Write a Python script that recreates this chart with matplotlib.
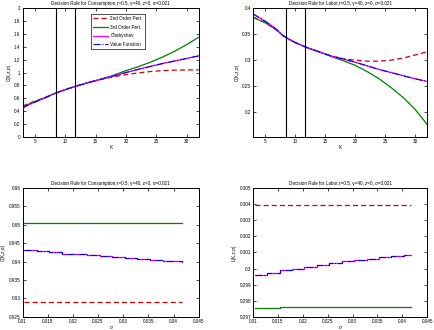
import numpy as np
import matplotlib
matplotlib.use("Agg")
import matplotlib.pyplot as plt
from matplotlib.ticker import FuncFormatter

plt.rcParams['font.family'] = ['Liberation Sans', 'DejaVu Sans']

# ==========================================================
# DATA
# ==========================================================

k_grid = [3, 4, 5, 6, 7, 8, 9, 10, 11, 12, 14, 16, 18, 20, 22, 24, 26, 28, 30, 32]

cons_pert2 = [0.48, 0.52, 0.555, 0.59, 0.625, 0.665, 0.70, 0.735, 0.765, 0.795,
              0.85, 0.895, 0.935, 0.968, 0.995, 1.016, 1.03, 1.038, 1.041, 1.042]
cons_pert3 = [0.47, 0.51, 0.55, 0.585, 0.622, 0.665, 0.70, 0.735, 0.765, 0.795,
              0.85, 0.90, 0.96, 1.03, 1.09, 1.16, 1.24, 1.33, 1.435, 1.55]
cons_cheb = [0.45, 0.50, 0.54, 0.58, 0.62, 0.665, 0.70, 0.735, 0.765, 0.795,
             0.85, 0.90, 0.95, 1.0, 1.05, 1.095, 1.14, 1.18, 1.22, 1.26]
cons_vf = [0.45, 0.50, 0.54, 0.58, 0.62, 0.665, 0.70, 0.735, 0.765, 0.795,
           0.85, 0.90, 0.95, 1.0, 1.05, 1.095, 1.14, 1.18, 1.22, 1.26]

lab_pert2 = [0.383, 0.378, 0.372, 0.365, 0.357, 0.347, 0.340, 0.334, 0.329, 0.324,
             0.316, 0.308, 0.303, 0.300, 0.298, 0.298, 0.300, 0.304, 0.310, 0.316]
lab_pert3 = [0.382, 0.377, 0.372, 0.365, 0.357, 0.347, 0.340, 0.334, 0.329, 0.324,
             0.316, 0.307, 0.299, 0.290, 0.278, 0.264, 0.247, 0.228, 0.205, 0.176]
lab_cheb = [0.389, 0.382, 0.375, 0.367, 0.358, 0.347, 0.340, 0.334, 0.329, 0.324,
            0.316, 0.308, 0.302, 0.296, 0.289, 0.282, 0.276, 0.270, 0.264, 0.259]
lab_vf = [0.389, 0.382, 0.375, 0.367, 0.358, 0.347, 0.340, 0.334, 0.329, 0.324,
          0.316, 0.308, 0.302, 0.296, 0.289, 0.282, 0.276, 0.270, 0.264, 0.259]

k_lines = [8.5, 11.65]

sig_grid = [0.0103, 0.0128, 0.0153, 0.0178, 0.0203, 0.0228, 0.0253, 0.0278,
            0.0303, 0.0328, 0.0353, 0.0378, 0.0403, 0.0417]

sig_cons_pert2 = [0.9291] * 14
sig_cons_pert3 = [0.9505] * 14
sig_cons_cheb = [0.9431, 0.9428, 0.9425, 0.9422, 0.9420, 0.9417, 0.9415,
                 0.9412, 0.9410, 0.9407, 0.9405, 0.9403, 0.9401, 0.9400]
sig_cons_vf = sig_cons_cheb

sig_lab_pert2 = [0.30396] * 14
sig_lab_pert3 = [0.29752, 0.29752] + [0.29758] * 12
sig_lab_cheb = [0.29960, 0.29975, 0.29988, 0.30000, 0.30012, 0.30023, 0.30034,
                0.30044, 0.30053, 0.30061, 0.30069, 0.30076, 0.30083, 0.30087]
sig_lab_vf = sig_lab_cheb

title_c = "Decision Rule for Consumption,\u03c4=0.5, \u03b3=40, z=0, \u03c3=0.021"
title_l = "Decision Rule for Labor,\u03c4=0.5, \u03b3=40, z=0, \u03c3=0.021"

# ==========================================================
# FIGURE
# ==========================================================

FS = 3.3
fig = plt.figure(figsize=(4.35, 3.3), dpi=100)

ax1 = fig.add_axes([0.052, 0.585, 0.405, 0.390])
ax2 = fig.add_axes([0.582, 0.585, 0.400, 0.390])
ax3 = fig.add_axes([0.052, 0.040, 0.405, 0.390])
ax4 = fig.add_axes([0.582, 0.040, 0.400, 0.390])

fmt = FuncFormatter(lambda v, p: "%g" % round(v, 6))


def draw(ax, x, p2, p3, ch, vf, steps=False):
    ds = 'steps-post' if steps else 'default'
    ax.plot(x, p2, color='#cc0000', ls='--', lw=0.9, dashes=(4, 2.5),
            label='2nd Order Pert.', drawstyle=ds)
    ax.plot(x, p3, color='#007f00', lw=0.9, label='3rd Order Pert.', drawstyle=ds)
    ax.plot(x, ch, color='#ff00ff', lw=0.9, label='Chebyshev', drawstyle=ds)
    ax.plot(x, vf, color='#0000ff', ls='-.', lw=0.8, label='Value Function', drawstyle=ds)


def style(ax, title, xlabel, ylabel):
    ax.set_title(title, fontsize=FS, pad=2)
    ax.set_xlabel(xlabel, fontsize=FS, labelpad=1)
    ax.set_ylabel(ylabel, fontsize=FS, labelpad=2)
    ax.tick_params(direction='in', top=True, right=True, length=2.2,
                   width=0.5, labelsize=FS, pad=1.5)
    ax.xaxis.set_major_formatter(fmt)
    ax.yaxis.set_major_formatter(fmt)
    for s in ax.spines.values():
        s.set_linewidth(0.7)


# Consumption vs K
draw(ax1, k_grid, cons_pert2, cons_pert3, cons_cheb, cons_vf)
for kl in k_lines:
    ax1.axvline(kl, color='black', lw=0.8)
ax1.set_xlim(3, 32)
ax1.set_ylim(0, 2)
ax1.set_xticks([5, 10, 15, 20, 25, 30])
ax1.set_yticks(np.arange(0, 2.01, 0.2))
style(ax1, title_c, "K", "C(K,z,\u03c3)")
leg = ax1.legend(loc='upper center', bbox_to_anchor=(0.54, 0.975), fontsize=FS,
                 frameon=True, fancybox=False, edgecolor='black',
                 handlelength=3.2, borderpad=0.5, labelspacing=0.8,
                 handletextpad=0.6)
leg.get_frame().set_linewidth(0.6)

# Labor vs K
draw(ax2, k_grid, lab_pert2, lab_pert3, lab_cheb, lab_vf)
for kl in k_lines:
    ax2.axvline(kl, color='black', lw=0.8)
ax2.set_xlim(3, 32)
ax2.set_ylim(0.152, 0.4)
ax2.set_xticks([5, 10, 15, 20, 25, 30])
ax2.set_yticks([0.2, 0.25, 0.3, 0.35, 0.4])
style(ax2, title_l, "K", "C(K,z,\u03c3)")

# Consumption vs sigma
draw(ax3, sig_grid, sig_cons_pert2, sig_cons_pert3, sig_cons_cheb, sig_cons_vf, steps=True)
ax3.set_xlim(0.01, 0.045)
ax3.set_ylim(0.925, 0.96)
ax3.set_xticks(np.arange(0.01, 0.0451, 0.005))
ax3.set_yticks(np.arange(0.925, 0.9601, 0.005))
style(ax3, title_c, "\u03c3", "C(K,z,\u03c3)")

# Labor vs sigma
draw(ax4, sig_grid, sig_lab_pert2, sig_lab_pert3, sig_lab_cheb, sig_lab_vf, steps=True)
ax4.set_xlim(0.01, 0.045)
ax4.set_ylim(0.297, 0.305)
ax4.set_xticks(np.arange(0.01, 0.0451, 0.005))
ax4.set_yticks(np.arange(0.297, 0.30501, 0.001))
style(ax4, title_l, "\u03c3", "L(K,z,\u03c3)")

fig.savefig("out.png", dpi=100)
